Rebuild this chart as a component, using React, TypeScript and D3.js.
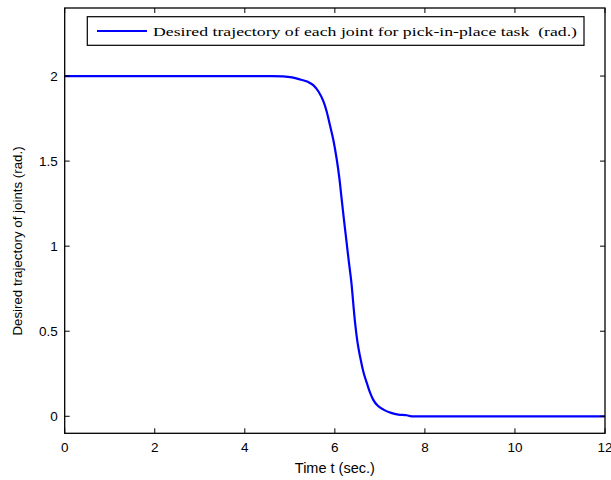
import React from "react";
import * as d3 from "d3";

const timeValues = [0, 4.6, 4.85, 5.05, 5.23, 5.4, 5.52, 5.64, 5.74, 5.82, 5.89, 5.97, 6.04, 6.1, 6.15, 6.2, 6.25, 6.31, 6.37, 6.41, 6.45, 6.5, 6.56, 6.63, 6.71, 6.78, 6.85, 6.96, 7.08, 7.25, 7.41, 7.6, 7.7, 9, 12];
const jointValues = [2, 2, 1.998, 1.992, 1.98, 1.966, 1.947, 1.908, 1.855, 1.79, 1.712, 1.62, 1.514, 1.4, 1.28, 1.16, 1.047, 0.91, 0.78, 0.66, 0.547, 0.44, 0.351, 0.265, 0.196, 0.14, 0.098, 0.06, 0.039, 0.02, 0.01, 0.006, 0.0, 0.0, 0.0];
const xTicks = [0, 2, 4, 6, 8, 10, 12];
const yTicks = [0, 0.5, 1, 1.5, 2];
const yTickLabels = ["0", "0.5", "1", "1.5", "2"];
const legendLabel = "Desired trajectory of each joint for pick-in-place task\u00a0\u00a0(rad.)";
const xLabel = "Time t (sec.)";
const yLabel = "Desired trajectory of joints (rad.)";

export default function App() {
  const W = 611, H = 480;
  const left = 64.7, right = 605, top = 8, bottom = 433.3;
  const x = d3.scaleLinear().domain([0, 12]).range([left, right]);
  const y = d3.scaleLinear().domain([-0.1, 2.4]).range([bottom, top]);
  const pts = timeValues.map((t, i) => [t, jointValues[i]] as [number, number]);
  const line = d3.line<[number, number]>().x(d => x(d[0])).y(d => y(d[1])).curve(d3.curveMonotoneX);
  const tl = 5;
  const sans = "Arial, 'Liberation Sans', sans-serif";
  const serif = "'Times New Roman', 'Liberation Serif', serif";
  return (
    <svg width={W} height={H} style={{ position: "absolute", left: 0, top: 0, background: "#fff" }}>
      <rect x={0} y={0} width={W} height={H} fill="#fff" />
      <path d={line(pts) || ""} fill="none" stroke="#0000ff" strokeWidth={2.2} />
      {xTicks.map(t => (
        <g key={"xt" + t}>
          <line x1={x(t)} x2={x(t)} y1={bottom} y2={bottom - tl} stroke="#000" strokeWidth={1} />
          <line x1={x(t)} x2={x(t)} y1={top} y2={top + tl} stroke="#000" strokeWidth={1} />
          <text x={x(t)} y={bottom + 19} textAnchor="middle" fontFamily={sans} fontSize={13.5} fill="#000">{t}</text>
        </g>
      ))}
      {yTicks.map((v, i) => (
        <g key={"yt" + v}>
          <line x1={left} x2={left + tl} y1={y(v)} y2={y(v)} stroke="#000" strokeWidth={1} />
          <line x1={right} x2={right - tl} y1={y(v)} y2={y(v)} stroke="#000" strokeWidth={1} />
          <text x={left - 7} y={y(v) + 4.5} textAnchor="end" fontFamily={sans} fontSize={13.5} fill="#000">{yTickLabels[i]}</text>
        </g>
      ))}
      <rect x={left} y={top} width={right - left} height={bottom - top} fill="none" stroke="#000" strokeWidth={1.3} />
      <rect x={87.3} y={16.7} width={584 - 87.3} height={45.3 - 16.7} fill="#fff" stroke="#000" strokeWidth={1.2} />
      <line x1={97} x2={147} y1={31} y2={31} stroke="#0000ff" strokeWidth={2.2} />
      <text x={153} y={35.5} fontFamily={serif} fontSize={13.5} fill="#000" textLength={424} lengthAdjust="spacingAndGlyphs">{legendLabel}</text>
      <text x={x(6)} y={473} textAnchor="middle" fontFamily={sans} fontSize={14.5} fill="#000">{xLabel}</text>
      <text transform={`translate(22, 241) rotate(-90)`} textAnchor="middle" fontFamily={sans} fontSize={13.3} fill="#000">{yLabel}</text>
    </svg>
  );
}
